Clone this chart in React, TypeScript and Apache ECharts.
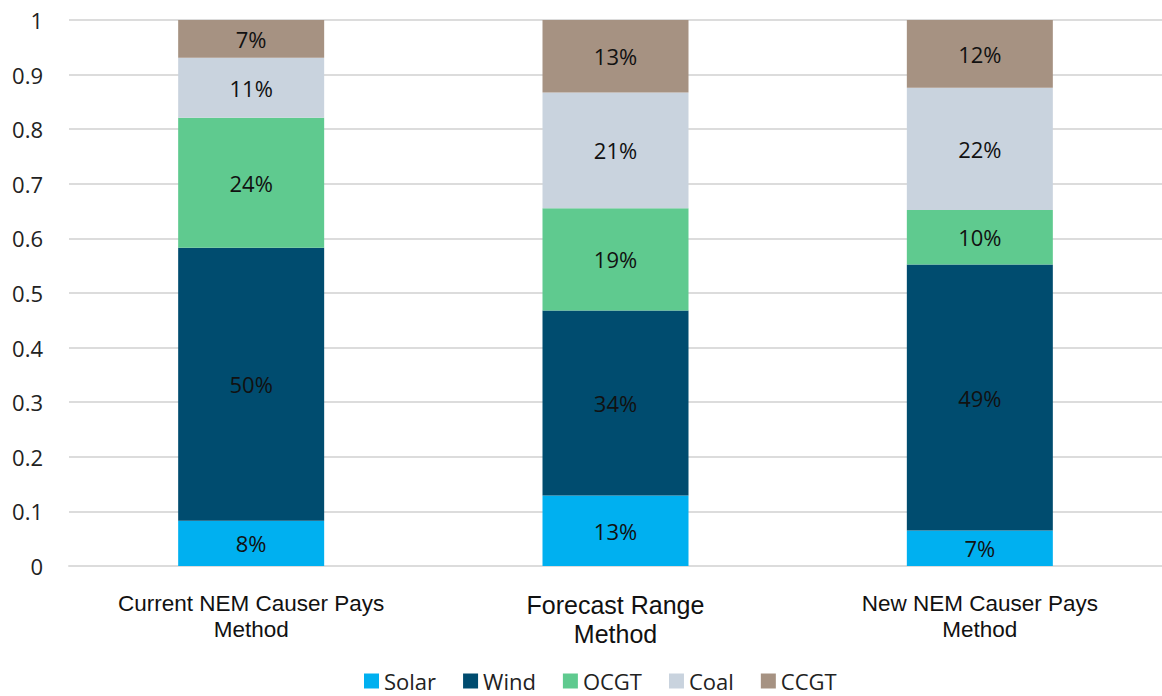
import React, { useEffect, useRef } from "react";
import * as echarts from "echarts";

const categories = ["Current NEM Causer Pays\nMethod", "Forecast Range\nMethod", "New NEM Causer Pays\nMethod"];
const seriesNames = ["Solar", "Wind", "OCGT", "Coal", "CCGT"];
const solar = [0.083, 0.129, 0.065];
const wind = [0.5, 0.339, 0.487];
const ocgt = [0.238, 0.187, 0.1];
const coal = [0.11, 0.212, 0.224];
const ccgt = [0.069, 0.133, 0.124];
const yTicks = [0, 0.1, 0.2, 0.3, 0.4, 0.5, 0.6, 0.7, 0.8, 0.9, 1];
const colors = ["#00B0F0", "#004C6F", "#5FCA8F", "#C9D3DE", "#A69282"];

export default function App() {
  const ref = useRef<HTMLDivElement>(null);
  useEffect(() => {
    if (!ref.current) return;
    const chart = echarts.init(ref.current, null, { renderer: "svg" });
    const data = [solar, wind, ocgt, coal, ccgt];
    chart.setOption({
      animation: false,
      color: colors,
      grid: { left: 69, right: -7, top: 20, bottom: 130 },
      legend: {
        bottom: 3,
        left: 364,
        padding: 0,
        itemWidth: 15,
        itemHeight: 15,
        itemGap: 27,
        icon: "rect",
        textStyle: { fontFamily: "Open Sans", fontSize: 22, lineHeight: 24, color: "#222" },
        data: seriesNames,
      },
      xAxis: {
        type: "category",
        data: categories,
        axisTick: { show: false },
        axisLine: { lineStyle: { color: "#dcdcdc", width: 2 } },
        axisLabel: {
          interval: 0,
          margin: 24,
          formatter: (v: string, i: number) =>
            v
              .split("\n")
              .map((line) => (i === 1 ? `{b|${line}}` : `{a|${line}}`))
              .join("\n"),
          rich: {
            a: { fontFamily: "Liberation Sans", fontSize: 22.5, lineHeight: 26, color: "#111" },
            b: { fontFamily: "Liberation Sans", fontSize: 25, lineHeight: 29, color: "#111" },
          },
        },
      },
      yAxis: {
        type: "value",
        min: 0,
        max: 1,
        interval: 0.1,
        axisLabel: {
          fontFamily: "Open Sans",
          fontSize: 22,
          color: "#222",
          margin: 26,
          formatter: (v: number) => {
            const t = yTicks.find((x) => Math.abs(x - v) < 1e-6);
            return t === undefined ? "" : String(Math.round(t * 10) / 10);
          },
        },
        splitLine: { lineStyle: { color: "#dcdcdc", width: 2 } },
        axisLine: { show: false },
        axisTick: { show: false },
      },
      series: seriesNames.map((name, k) => ({
        name,
        type: "bar",
        stack: "total",
        barWidth: 146,
        data: data[k],
        label: {
          show: true,
          position: "inside",
          fontFamily: "Open Sans",
          fontSize: 22,
          color: "#111",
          formatter: (p: any) => `${Math.round(p.value * 100)}%`,
        },
      })),
    });
    return () => chart.dispose();
  }, []);
  return <div ref={ref} style={{ width: 1162, height: 696, position: "absolute", left: 0, top: 0 }} />;
}
